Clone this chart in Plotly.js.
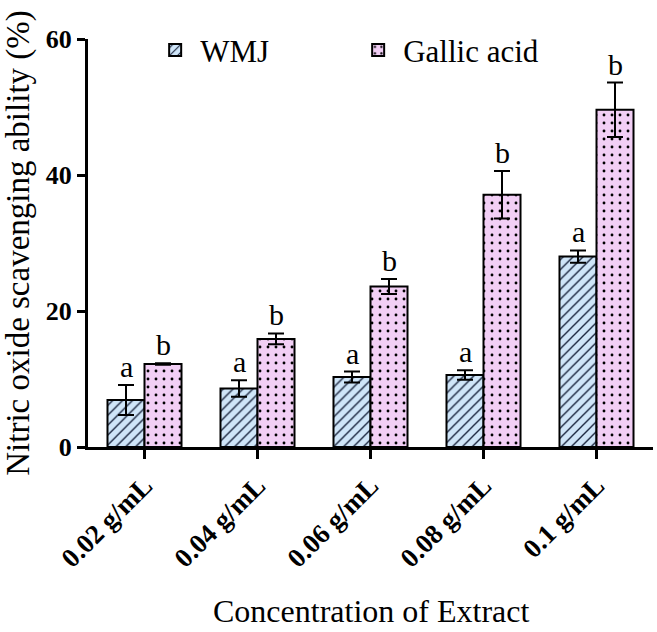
<!DOCTYPE html>
<html>
<head>
<meta charset="utf-8">
<script src="https://cdn.plot.ly/plotly-3.0.1.min.js"></script>
<style>html,body{margin:0;padding:0;background:#fff}#chart{width:657px;height:632px}</style>
</head>
<body>
<div id="chart"></div>
<script>
const categories = ["0.02 g/mL", "0.04 g/mL", "0.06 g/mL", "0.08 g/mL", "0.1 g/mL"];
const wmjValues = [6.9, 8.6, 10.3, 10.6, 28.0];
const wmjErrors = [2.2, 1.2, 0.8, 0.7, 0.9];
const gallicValues = [12.2, 15.9, 23.6, 37.1, 49.6];
const gallicErrors = [0.1, 0.8, 1.1, 3.5, 4.0];
const wmjLetters = ["a", "a", "a", "a", "a"];
const gallicLetters = ["b", "b", "b", "b", "b"];
const yTicks = [0, 20, 40, 60];
const xTitle = "Concentration of Extract";
const yTitle = "Nitric oxide scavenging ability (%)";

const serif = "Liberation Serif";

const traces = [
  {
    type: "bar", name: "WMJ", x: categories, y: wmjValues,
    error_y: {type: "data", array: wmjErrors, visible: true, color: "#000", thickness: 2, width: 8},
    marker: {
      color: "#cfe5f8",
      line: {color: "#000", width: 2},
      pattern: {shape: "/", fgcolor: "#1c2740", bgcolor: "#cfe5f8", size: 7, solidity: 0.2, fillmode: "replace"}
    }
  },
  {
    type: "bar", name: "Gallic acid", x: categories, y: gallicValues,
    error_y: {type: "data", array: gallicErrors, visible: true, color: "#000", thickness: 2, width: 8},
    marker: {
      color: "#f2cff5",
      line: {color: "#000", width: 2},
      pattern: {shape: ".", fgcolor: "#000", bgcolor: "#f2cff5", size: 8, solidity: 0.1, fillmode: "replace"}
    }
  }
];

const annotations = [];
categories.forEach((c, i) => {
  annotations.push({x: c, y: wmjValues[i] + wmjErrors[i], text: wmjLetters[i], showarrow: false,
    xref: "x", yref: "y", yanchor: "bottom", xshift: -18.5, yshift: 0,
    font: {family: serif, size: 30, color: "#000"}});
  annotations.push({x: c, y: gallicValues[i] + gallicErrors[i], text: gallicLetters[i], showarrow: false,
    xref: "x", yref: "y", yanchor: "bottom", xshift: 18.5, yshift: 0,
    font: {family: serif, size: 30, color: "#000"}});
});
annotations.push({x: 0.5, y: -0.402, xref: "paper", yref: "paper", xanchor: "center", yanchor: "middle",
  text: xTitle, showarrow: false, font: {family: serif, size: 32, color: "#000"}});

const layout = {
  width: 657, height: 632,
  margin: {l: 88, r: 4, t: 39, b: 185},
  paper_bgcolor: "#fff", plot_bgcolor: "#fff",
  barmode: "group", bargap: 0.345, bargroupgap: 0,
  font: {family: serif, color: "#000"},
  xaxis: {
    type: "category", showline: true, linecolor: "#000", linewidth: 3,
    ticks: "outside", ticklen: 9, tickwidth: 3, tickcolor: "#000",
    tickangle: -45, tickfont: {family: serif, size: 27, weight: "bold", color: "#000"},
    showgrid: false, zeroline: false, automargin: false
  },
  yaxis: {
    range: [0, 60], tickvals: yTicks, showline: true, linecolor: "#000", linewidth: 3,
    ticks: "outside", ticklen: 8, tickwidth: 3, tickcolor: "#000",
    tickfont: {family: serif, size: 26, weight: "bold", color: "#000"},
    showgrid: false, zeroline: false, automargin: false,
    title: {text: yTitle, font: {family: serif, size: 33, color: "#000"}, standoff: 10}
  },
  legend: {
    orientation: "h", x: 0.11, y: 0.972, xanchor: "left", yanchor: "middle",
    font: {family: serif, size: 31, color: "#000"}, itemwidth: 40, entrywidth: 148, entrywidthmode: "pixels",
    bgcolor: "rgba(0,0,0,0)"
  },
  annotations: annotations
};

Plotly.newPlot("chart", traces, layout, {displayModeBar: false, staticPlot: true});
</script>
</body>
</html>
